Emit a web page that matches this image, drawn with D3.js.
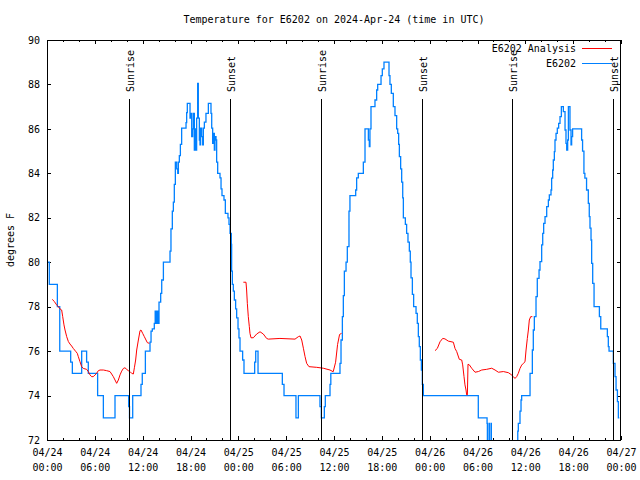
<!DOCTYPE html>
<html><head><meta charset="utf-8">
<script src="https://cdn.jsdelivr.net/npm/d3@7"></script>
<style>
body{margin:0;background:#fff;}
svg text{font-family:"DejaVu Sans Mono","Liberation Mono",monospace;font-size:10px;fill:#000;}
</style></head><body>
<svg id="chart" width="640" height="480"></svg>
<script>
// ---------------- data ----------------
const title = "Temperature for E6202 on 2024-Apr-24 (time in UTC)";
const yAxisLabel = "degrees F";
const seriesNames = ["E6202 Analysis", "E6202"];
const seriesColors = ["#ff0000", "#0080ff"];
// hours since 04/24 00:00 UTC
const xMajorTicks = [0, 6, 12, 18, 24, 30, 36, 42, 48, 54, 60, 66, 72];
const xTickDates = ["04/24","04/24","04/24","04/24","04/25","04/25","04/25","04/25","04/26","04/26","04/26","04/26","04/27"];
const xTickTimes = ["00:00","06:00","12:00","18:00","00:00","06:00","12:00","18:00","00:00","06:00","12:00","18:00","00:00"];
const yTicks = [72, 74, 76, 78, 80, 82, 84, 86, 88, 90];
const sunLabels = ["Sunrise", "Sunset", "Sunrise", "Sunset", "Sunrise", "Sunset"];
const sunHours = [10.33, 23.0, 34.31, 46.98, 58.37, 71.03];

// E6202 observations [hour, °F]
const observed = [
[0,80],[0.29,79],[1.3,78],[1.6,76],[2.97,75.5],[3.18,75],[4.35,76],[4.97,75.5],[5.18,75],[6.35,74],[7.07,73],[8.53,74],[10.24,73.5],[10.35,73],[10.75,74],[11.79,74.5],[11.95,75],[12.34,76],[12.92,76.4],[13.05,76.9],[13.21,77],[13.46,77.25],[13.57,77.8],[13.6,77.25],[13.76,77.8],[13.79,77.25],[13.95,77.8],[13.98,77.25],[14.05,78.2],[14.26,78.6],[14.39,79.2],[14.6,80],[15.43,80.5],
[15.55,81.5],[15.72,82.3],[15.85,82.7],[15.97,83.5],[16.1,84.5],[16.27,84.2],[16.4,84],[16.48,84.5],[16.6,84.8],[16.73,85.3],[16.89,86.03],[17.44,86.28],[17.52,86.73],[17.6,87.15],[17.94,86.48],[18.07,86.7],[18.15,85.65],[18.27,86],[18.36,86.7],[18.48,85.05],[18.61,86],[18.69,85.05],[18.77,86.48],[18.9,88.05],[18.98,86.48],[19.11,85.5],[19.19,85.28],[19.27,86.03],[19.4,85.65],[19.53,85.28],[19.61,86.03],[19.74,86.3],[19.94,86.7],[20.24,87.15],[20.57,86.7],[20.66,86.03],[20.78,85.35],[20.87,85.8],[20.99,85.05],[21.07,85.65],[21.2,85.5],[21.28,84.5],[21.41,84],[21.7,83.8],[21.83,83.3],[21.95,83],[22.2,82.8],[22.37,82.2],[22.7,82],[22.83,81.7],[22.96,81.3],[23.12,80.8],
[23.16,79.6],[23.25,79],[23.37,78.7],[23.5,78.3],[23.66,77.9],[23.79,77.5],[23.96,77],[24.08,76.6],[24.21,76],[24.54,75.6],[24.71,75],[26.05,75.5],[26.18,76],[26.47,75],[29.52,74.5],[29.73,74],[31.23,73],[31.53,74],[34.24,73.5],[34.41,73],[34.79,73.5],[34.91,74],[35.5,74.5],[35.6,75],
[36.75,75.45],[36.88,76.5],[37.05,77.55],[37.17,78.5],[37.3,79.6],[37.51,80],[37.67,80.7],[37.88,82.3],[38,83],[38.72,83.25],[38.84,83.8],[39.05,84],[39.68,84.5],[39.89,86],[40.31,85.5],[40.43,85.2],[40.51,86],[40.64,87],[41.14,87.3],[41.35,87.75],[41.48,88],[41.9,88.4],[42.06,88.7],[42.27,89],[42.9,88.4],[43.02,88],[43.19,87.6],[43.44,87],[43.65,86.6],[43.86,86],[43.99,85.8],[44.11,85.3],[44.2,84.75],[44.36,84.2],[44.49,83.6],[44.62,82.9],[44.7,82],[44.95,81.7],[45.11,81.3],[45.28,80.9],[45.45,80.5],[45.57,80],[45.66,79.3],[45.83,78.55],[45.99,78],[46.29,77.7],[46.45,77.25],[46.58,76.65],[46.7,76.2],[46.83,75.6],[46.96,75.15],[47.08,74.5],[47.21,74],
[54.1,73],[55.2,72.75],[55.24,71.5],[55.45,72.75],[55.49,71.5],[55.7,72.75],[55.74,71],[59.05,72.4],[59.12,72.75],[59.33,73.3],[59.46,73.8],[59.54,74],[60.59,75],[60.88,76.05],[61,76.95],[61.13,77.55],[61.34,78.45],[61.5,79.27],[61.72,79.65],[61.84,80.03],[62.05,80.78],[62.18,81.3],[62.3,81.75],[62.47,82.05],[62.68,82.5],[62.89,82.8],[63.01,83.03],[63.22,83.25],[63.3,83.78],[63.43,84.15],[63.51,84.6],[63.64,84.98],[63.72,85.5],[63.85,85.8],[64.01,86.03],[64.18,86.25],[64.35,86.55],[64.52,87],[64.77,86.78],[64.98,85.95],[65.1,85.35],[65.19,85.05],[65.31,85.5],[65.4,87],[65.6,85.95],[65.73,85.28],[65.81,85.65],[65.93,86],[67.06,85.5],[67.18,85],[67.35,84],[67.47,83.78],[67.68,83.25],[67.9,82.65],[68.02,82.05],[68.11,81.53],[68.24,81],[68.32,79.95],[68.45,79.05],[68.62,78],[69.29,77.55],[69.46,77],[70.29,76.65],[70.41,76.2],[70.5,76],[71.04,75.45],[71.25,74.85],[71.38,74.25],[71.55,73.73],[71.67,73],[71.79,73]
];

// E6202 Analysis, three separate runs [hour, °F]
const analysisRun1 = [[0.67,78.33],[0.92,78.23],[1.21,78.08],[1.42,78.0],[1.63,77.9],[1.84,77.85],[1.97,77.55],[2.13,77.18],[2.26,76.95],[2.47,76.65],[2.68,76.43],[2.88,76.32],[3.09,76.23],[3.3,76.12],[3.64,75.97],[3.8,75.9],[3.93,75.75],[4.14,75.52],[4.35,75.3],[4.56,75.22],[4.97,75.18],[5.18,75.08],[5.39,74.93],[5.6,74.85],[5.81,74.85],[6.02,74.93],[6.23,75.0],[6.44,75.12],[6.65,75.15],[7.07,75.15],[7.48,75.12],[7.9,75.08],[8.11,74.97],[8.32,74.85],[8.53,74.7],[8.74,74.55],[8.95,74.7],[9.16,74.93],[9.37,75.1],[9.58,75.22],[9.78,75.25],[9.99,75.18],[10.2,75.12],[10.41,75.08],[10.62,75.0],[10.83,74.97],[10.96,75.25],[11.12,75.6],[11.25,76.05],[11.46,76.5],[11.67,76.92],[11.79,76.95],[12.0,76.8],[12.21,76.65],[12.42,76.5],[12.59,76.38],[12.84,76.35]];
const analysisRun2 = [[24.63,79.1],[24.96,79.1],[25.04,78.75],[25.13,78.15],[25.25,77.55],[25.38,77.1],[25.46,76.8],[25.59,76.6],[25.88,76.6],[26.3,76.77],[26.72,76.87],[27.13,76.77],[27.55,76.57],[27.76,76.54],[29.22,76.57],[31.11,76.54],[31.53,76.65],[31.74,76.68],[31.95,76.5],[32.16,76.13],[32.37,75.75],[32.57,75.45],[32.86,75.3],[33.83,75.27],[34.66,75.23],[35.5,75.15],[35.9,75.07],[36.2,75.5],[36.45,76.3],[36.7,76.75],[36.95,76.8]];
const analysisRun3 = [[48.67,76.02],[48.96,76.12],[49.3,76.42],[49.63,76.57],[49.92,76.55],[50.34,76.45],[50.97,76.4],[51.18,76.12],[51.39,75.98],[51.72,75.63],[52.02,75.6],[52.14,75.38],[52.31,74.85],[52.43,74.48],[52.56,74.25],[52.64,74.03],[52.73,74.03],[52.81,75.41],[52.98,75.38],[53.27,75.23],[53.69,75.05],[54.11,75.08],[54.53,75.15],[55.15,75.18],[55.78,75.23],[56.2,75.15],[56.62,75.05],[57.24,75.08],[57.87,75.03],[58.2,74.95],[58.5,74.85],[58.7,74.77],[58.91,74.85],[59.12,75.0],[59.33,75.22],[59.54,75.37],[59.75,75.45],[59.96,75.52],[60.09,76.05],[60.25,76.57],[60.38,76.95],[60.5,77.4],[60.67,77.55],[60.88,77.55]];
const analysisRuns = [analysisRun1, analysisRun2, analysisRun3];

// ---------------- layout ----------------
const L = 47, R = 621, T = 40, B = 440;
const svg = d3.select("#chart");
svg.append("rect").attr("width", 640).attr("height", 480).attr("fill", "#fff");

const x = d3.scaleLinear().domain([0, 72]).range([L, R]);
const y = d3.scaleLinear().domain([72, 90]).range([B, T]);

svg.append("defs").append("clipPath").attr("id", "plotClip")
  .append("rect").attr("x", L).attr("y", T).attr("width", R - L).attr("height", B - T);

// title
svg.append("text").attr("x", (L + R) / 2).attr("y", 23).attr("text-anchor", "middle").text(title);
// y label
svg.append("text").attr("transform", "translate(14,240) rotate(-90)").attr("text-anchor", "middle").text(yAxisLabel);

const xMinor = d3.range(0, 73, 2).filter(d => d % 6 !== 0);

// bottom axis with labels
const gx = svg.append("g").attr("transform", `translate(0,${B})`)
  .call(d3.axisBottom(x).tickValues(xMajorTicks).tickSizeInner(-4).tickSizeOuter(0).tickPadding(9)
    .tickFormat((d, i) => xTickDates[i]));
gx.select(".domain").remove();
gx.selectAll(".tick text").append("tspan").attr("x", 0).attr("dy", "1.5em").text((d, i) => xTickTimes[i]);
svg.append("g").attr("transform", `translate(0,${B})`)
  .call(d3.axisBottom(x).tickValues(xMinor).tickSizeInner(-2).tickSizeOuter(0).tickFormat(""))
  .select(".domain").remove();
// top mirrored ticks
svg.append("g").attr("transform", `translate(0,${T})`)
  .call(d3.axisTop(x).tickValues(xMajorTicks).tickSizeInner(-4).tickSizeOuter(0).tickFormat(""))
  .select(".domain").remove();
svg.append("g").attr("transform", `translate(0,${T})`)
  .call(d3.axisTop(x).tickValues(xMinor).tickSizeInner(-2).tickSizeOuter(0).tickFormat(""))
  .select(".domain").remove();
// left axis
svg.append("g").attr("transform", `translate(${L},0)`)
  .call(d3.axisLeft(y).tickValues(yTicks).tickSizeInner(-4).tickSizeOuter(0).tickPadding(7).tickFormat(d3.format("d")))
  .select(".domain").remove();
// right mirrored ticks
svg.append("g").attr("transform", `translate(${R},0)`)
  .call(d3.axisRight(y).tickValues(yTicks).tickSizeInner(-4).tickSizeOuter(0).tickFormat(""))
  .select(".domain").remove();

svg.selectAll(".tick line").attr("shape-rendering", "crispEdges");

// data
const plot = svg.append("g").attr("clip-path", "url(#plotClip)");
const lineStep = d3.line().x(d => x(d[0])).y(d => y(d[1])).curve(d3.curveStepAfter);
const lineLin = d3.line().x(d => x(d[0])).y(d => y(d[1]));

plot.append("path").datum(observed)
  .attr("d", lineStep).attr("fill", "none").attr("stroke", seriesColors[1]).attr("stroke-width", 1.3);

plot.selectAll("path.analysis").data(analysisRuns).join("path").attr("class", "analysis")
  .attr("d", lineLin).attr("fill", "none").attr("stroke", seriesColors[0]).attr("stroke-width", 1);

// sunrise / sunset markers
const sun = svg.append("g");
sun.selectAll("line").data(sunHours).join("line")
  .attr("x1", d => Math.round(x(d)) + 0.5).attr("x2", d => Math.round(x(d)) + 0.5)
  .attr("y1", 99).attr("y2", B).attr("stroke", "#000").attr("stroke-width", 1);
sun.selectAll("text").data(sunHours).join("text")
  .attr("transform", d => `translate(${Math.round(x(d)) + 5},92) rotate(-90)`)
  .text((d, i) => sunLabels[i]);

// frame
svg.append("rect").attr("x", L + 0.5).attr("y", T + 0.5).attr("width", R - L - 1).attr("height", B - T)
  .attr("fill", "none").attr("stroke", "#000").attr("stroke-width", 1);

// legend
const legend = svg.append("g");
seriesNames.forEach((name, i) => {
  const ly = 48 + i * 15;
  legend.append("text").attr("x", 576).attr("y", ly + 4).attr("text-anchor", "end").text(name);
  legend.append("line").attr("x1", 582).attr("x2", 612).attr("y1", ly + 0.5).attr("y2", ly + 0.5)
    .attr("stroke", seriesColors[i]).attr("stroke-width", 1);
});
</script>
</body></html>
